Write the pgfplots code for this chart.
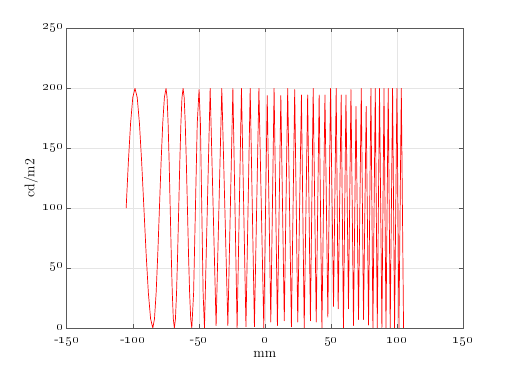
\documentclass[border=0pt]{standalone}
\usepackage{pgfplots}
\pgfplotsset{compat=1.18}
\begin{document}
\begin{tikzpicture}
\path[use as bounding box] (-66.7bp,-41bp) rectangle (445.3bp,328bp);
\begin{axis}[
  at={(0,0)}, anchor=south west,
  scale only axis, width=396.3bp, height=299.5bp,
  xmin=-150, xmax=150, ymin=0, ymax=250,
  xtick={-150,-100,-50,0,50,100,150},
  xticklabels={-\oldstylenums{150},-\oldstylenums{100},-\oldstylenums{50},\oldstylenums{0},\oldstylenums{50},\oldstylenums{100},\oldstylenums{150}},
  ytick={0,50,100,150,200,250},
  yticklabels={\oldstylenums{0},\oldstylenums{50},\oldstylenums{100},\oldstylenums{150},\oldstylenums{200},\oldstylenums{250}},
  grid=major,
  grid style={draw=black!10, line width=0.5pt},
  axis line style={draw=black!65, line width=0.6pt},
  tick style={draw=black!65, line width=0.5pt},
  tick align=inside,
  major tick length=4bp,
  tick label style={font=\fontsize{13.5}{15}\selectfont},
  xticklabel style={yshift=-5.5bp},
  yticklabel style={xshift=0bp, yshift=1bp},
  label style={font=\fontsize{14}{16}\selectfont},
  xlabel={mm},
  ylabel={cd/m2},
  xlabel style={yshift=2bp},
  ylabel style={yshift=-2bp},
]
\addplot[red, line width=0.7pt, line join=round] coordinates {
(-105,100) (-103.33,138.3) (-101.65,170.7) (-99.98,192.4) (-98.3,200)
(-96.61,192.4) (-94.93,170.7) (-93.24,138.3) (-91.55,100) (-89.86,61.7) (-88.18,29.3) (-86.49,7.6) (-84.8,0)
(-83.55,7.6) (-82.3,29.3) (-81.05,61.7) (-79.8,100) (-78.55,138.3) (-77.3,170.7) (-76.05,192.4) (-74.8,200)
(-74.01,192.4) (-73.23,170.7) (-72.44,138.3) (-71.65,100) (-70.86,61.7) (-70.08,29.3) (-69.29,7.6) (-68.5,0)
(-67.68,7.6) (-66.85,29.3) (-66.03,61.7) (-65.2,100) (-64.38,138.3) (-63.55,170.7) (-62.73,192.4) (-61.9,200)
(-61.08,192.4) (-60.25,170.7) (-59.43,138.3) (-58.6,100) (-57.78,61.7) (-56.95,29.3) (-56.13,7.6) (-55.3,0)
(-53.93,29.3) (-52.55,100) (-51.18,170.7) (-49.8,199)
(-48.78,170.7) (-47.75,100) (-46.73,29.3) (-45.7,0)
(-41.4,200) (-36.9,2) (-32.6,200) (-28.0,2) (-24.2,200) (-21.0,0) (-17.7,200) (-14.3,1)
(-11.1,200) (-7.9,1) (-4.5,200) (-0.8,0) (1.8,194) (4.5,5) (7.0,200) (9.5,2)
(12.1,194) (14.7,6) (17.3,200) (20.1,1) (22.6,199) (24.9,5) (27.7,194.5) (29.8,0)
(32.4,194.5) (34.5,6) (36.6,200) (38.9,5) (41.1,194.5) (43.2,0) (45.5,194.5) (47.7,9)
(49.7,200) (52.0,18) (54.0,200) (55.5,16) (57.8,194.5) (59.5,0) (61.4,194.5) (63.3,16)
(65.2,199) (67.1,2) (69.0,185) (70.9,7) (73.0,200) (74.7,7) (76.7,185) (78.5,2.5)
(80.3,200) (81.8,0) (83.6,200) (85.1,0) (86.8,200) (88.6,0) (90.2,200) (91.7,0)
(93.4,200) (94.9,0) (96.7,200) (98.2,0) (100,200) (101.5,0) (103.3,200) (105,0)
};
\end{axis}
\end{tikzpicture}
\end{document}
